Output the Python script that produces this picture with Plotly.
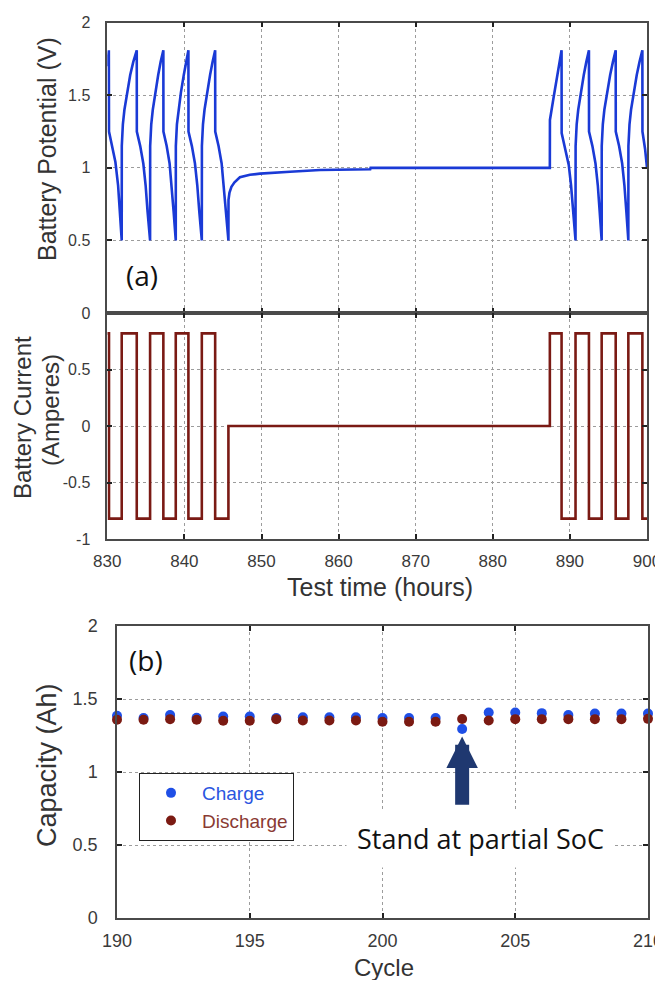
import plotly.graph_objects as go

# ---------------- data ----------------
# Panel (a) top: battery potential vs test time
volt_time = [
    830.00, 830.20, 830.22, 830.60, 831.05, 831.40, 831.65, 831.87,
    831.88, 832.02, 832.22, 832.57, 832.97, 833.37, 833.82,
    833.83, 834.27, 834.67, 834.97, 835.22, 835.55,
    835.56, 835.70, 835.90, 836.22, 836.60, 836.92, 837.27,
    837.28, 837.70, 838.08, 838.36, 838.60, 838.88,
    838.89, 839.03, 839.23, 839.55, 839.92, 840.20, 840.52,
    840.53, 840.97, 841.37, 841.67, 841.93, 842.26,
    842.27, 842.41, 842.61, 842.95, 843.33, 843.65, 843.99,
    844.00, 844.43, 844.83, 845.12, 845.38, 845.71,
    845.72, 845.85, 846.10, 846.50, 847.20, 848.50, 849.80, 853.70,
    857.60, 864.10, 864.15, 887.40,
    887.41, 887.90, 888.36, 888.75, 888.92,
    888.93, 889.40, 889.85, 890.15, 890.45, 890.73,
    890.74, 890.88, 891.08, 891.42, 891.80, 892.13, 892.47,
    892.48, 892.92, 893.32, 893.62, 893.86, 894.12,
    894.13, 894.27, 894.47, 894.82, 895.22, 895.58, 895.94,
    895.95, 896.38, 896.78, 897.07, 897.32, 897.58,
    897.59, 897.73, 897.93, 898.27, 898.67, 899.03, 899.40,
    899.41, 899.75, 900.00,
]
volt_value = [
    1.70, 1.81, 1.25, 1.16, 1.04, 0.88, 0.70, 0.50,
    1.15, 1.30, 1.40, 1.52, 1.64, 1.73, 1.81,
    1.25, 1.15, 1.03, 0.88, 0.70, 0.50,
    1.15, 1.30, 1.40, 1.52, 1.64, 1.73, 1.81,
    1.25, 1.15, 1.03, 0.88, 0.70, 0.50,
    1.15, 1.30, 1.40, 1.52, 1.64, 1.73, 1.81,
    1.25, 1.15, 1.03, 0.88, 0.70, 0.50,
    1.15, 1.30, 1.40, 1.52, 1.64, 1.73, 1.81,
    1.25, 1.15, 1.03, 0.88, 0.70, 0.50,
    0.78, 0.83, 0.87, 0.90, 0.935, 0.952, 0.96, 0.973,
    0.985, 0.99, 1.00, 1.00,
    1.33, 1.49, 1.63, 1.76, 1.81,
    1.24, 1.13, 1.02, 0.88, 0.70, 0.50,
    1.15, 1.30, 1.40, 1.52, 1.64, 1.73, 1.81,
    1.25, 1.15, 1.03, 0.88, 0.70, 0.50,
    1.15, 1.30, 1.40, 1.52, 1.64, 1.73, 1.81,
    1.25, 1.15, 1.03, 0.88, 0.70, 0.50,
    1.15, 1.30, 1.40, 1.52, 1.64, 1.73, 1.81,
    1.25, 1.13, 1.00,
]

# Panel (a) bottom: battery current (step changes)
current_time = [830.00, 830.22, 831.87, 833.82, 835.55, 837.27, 838.88, 840.52,
                842.26, 843.99, 845.71, 887.40, 888.92, 890.73, 892.47, 894.12,
                895.94, 897.58, 899.40, 900.00]
current_value = [0.82, -0.82, 0.82, -0.82, 0.82, -0.82, 0.82, -0.82,
                 0.82, -0.82, 0.0, 0.82, -0.82, 0.82, -0.82, 0.82,
                 -0.82, 0.82, -0.82, -0.82]

# Panel (b): capacity per cycle
cycles = list(range(190, 211))
charge_cap = [1.385, 1.37, 1.39, 1.372, 1.38, 1.38, 1.37, 1.375, 1.375, 1.375, 1.37,
              1.37, 1.37, 1.295, 1.407, 1.407, 1.403, 1.39, 1.40, 1.40, 1.40]
discharge_cap = [1.358, 1.358, 1.362, 1.358, 1.351, 1.351, 1.362, 1.353, 1.353, 1.353, 1.344,
                 1.344, 1.344, 1.363, 1.353, 1.362, 1.362, 1.362, 1.362, 1.362, 1.364]

time_ticks = [830, 840, 850, 860, 870, 880, 890, 900]
volt_ticks = [0, 0.5, 1, 1.5, 2]
current_ticks = [-1, -0.5, 0, 0.5]
cycle_ticks = [190, 195, 200, 205, 210]
cap_ticks = [0, 0.5, 1, 1.5, 2]

# ---------------- styling ----------------
PAGE_W, PAGE_H = 663, 988
BODY_MARGIN = 8                      # default page margin around the plot div
W, H = PAGE_W - BODY_MARGIN, PAGE_H - 2 * BODY_MARGIN
FONT = "Liberation Sans, Arial, sans-serif"
TICK_COLOR = "#3a3a3a"
FRAME = "#4a4a4a"
GRID = "#9c9c9c"
BLUE = "#1a3ad6"
MAROON = "#7a1a14"
DOT_BLUE = "#1f4fe6"
DOT_RED = "#7b1a12"


def px_x(p):
    return (p - BODY_MARGIN) / W


def px_y(p):
    return 1 - (p - BODY_MARGIN) / H


fig = go.Figure()

fig.add_trace(go.Scatter(x=volt_time, y=volt_value, mode="lines",
                         line=dict(color=BLUE, width=2.6),
                         xaxis="x", yaxis="y", showlegend=False))
fig.add_trace(go.Scatter(x=current_time, y=current_value, mode="lines",
                         line=dict(color=MAROON, width=2.6, shape="hv"),
                         xaxis="x2", yaxis="y2", showlegend=False))
fig.add_trace(go.Scatter(x=cycles, y=charge_cap, mode="markers",
                         name="<span style='color:#2a55e0'>Charge</span>",
                         marker=dict(color=DOT_BLUE, size=10),
                         cliponaxis=False, xaxis="x3", yaxis="y3"))
fig.add_trace(go.Scatter(x=cycles, y=discharge_cap, mode="markers",
                         name="<span style='color:#8a3a32'>Discharge</span>",
                         marker=dict(color=DOT_RED, size=10),
                         cliponaxis=False, xaxis="x3", yaxis="y3"))

common_axis = dict(
    showline=True, linecolor=FRAME, linewidth=1.5, mirror="ticks",
    ticks="inside", ticklen=5, tickwidth=1.5, tickcolor="#222",
    showgrid=True, gridcolor=GRID, gridwidth=1, griddash="dot",
    zeroline=False, automargin=False, ticklabeloverflow="allow",
    tickfont=dict(family=FONT, size=16, color=TICK_COLOR),
)

top_x_dom = [px_x(107.3), px_x(647)]
bot_x_dom = [px_x(117), px_x(648)]

fig.update_layout(
    width=W, height=H,
    margin=dict(l=0, r=0, t=0, b=0, autoexpand=False),
    paper_bgcolor="white", plot_bgcolor="white",
    font=dict(family=FONT, color="#333"),
    xaxis=dict(common_axis, domain=top_x_dom, range=[830, 900], tickvals=time_ticks,
               showticklabels=False, anchor="y"),
    yaxis=dict(common_axis, domain=[px_y(313), px_y(22.7)], range=[0, 2], tickvals=volt_ticks,
               ticktext=["0", "0.5", "1", "1.5", "2"], ticklabelstandoff=12, anchor="x"),
    xaxis2=dict(common_axis, domain=top_x_dom, range=[830, 900], tickvals=time_ticks,
                anchor="y2", matches="x", ticklabelstandoff=6,
                tickfont=dict(family=FONT, size=17, color=TICK_COLOR)),
    yaxis2=dict(common_axis, domain=[px_y(539), px_y(313)], range=[-1, 1],
                tickvals=current_ticks, ticktext=["-1", "-0.5", "0", "0.5"],
                ticklabelstandoff=12, anchor="x2"),
    xaxis3=dict(common_axis, domain=bot_x_dom, range=[190, 210], tickvals=cycle_ticks,
                anchor="y3", ticklabelstandoff=6,
                tickfont=dict(family=FONT, size=18, color=TICK_COLOR)),
    yaxis3=dict(common_axis, domain=[px_y(918), px_y(626)], range=[0, 2], tickvals=cap_ticks,
                ticktext=["0", "0.5", "1", "1.5", "2"], ticklabelstandoff=14, anchor="x3",
                tickfont=dict(family=FONT, size=18, color=TICK_COLOR)),
    legend=dict(x=px_x(139), y=px_y(773), xanchor="left", yanchor="top",
                bgcolor="white", bordercolor="#222", borderwidth=1, itemwidth=52,
                font=dict(family=FONT, size=19), tracegroupgap=0),
)


def title(text, xp, yp, size, angle=0):
    return dict(text=text, x=px_x(xp), y=px_y(yp), xref="paper", yref="paper",
                xanchor="center", yanchor="middle", textangle=angle, showarrow=False,
                font=dict(family=FONT, size=size, color="#333"))


annotations = [
    title("Battery Potential (V)", 47, 149, 25, -90),
    title("Battery Current", 22, 418, 24, -90),
    title("(Amperes)", 50, 410, 24, -90),
    title("Test time (hours)", 379.5, 587, 25),
    title("Capacity (Ah)", 47, 765, 27, -90),
    title("Cycle", 384, 967, 24),
    dict(text="(a)", x=834.5, y=0.26, xref="x", yref="y", showarrow=False,
         xanchor="center", yanchor="middle",
         font=dict(family="Open Sans, sans-serif", size=28, color="#111")),
    dict(text="(b)", x=191.1, y=1.764, xref="x3", yref="y3", showarrow=False,
         xanchor="center", yanchor="middle",
         font=dict(family="Open Sans, sans-serif", size=28, color="#111")),
    dict(text="Stand at partial SoC", x=203.7, y=0.547, xref="x3", yref="y3", showarrow=False,
         xanchor="center", yanchor="middle", bgcolor="white", borderpad=10,
         font=dict(family="Open Sans, sans-serif", size=27, color="#111")),
    dict(text="", x=203, y=1.243, ax=203, ay=0.765, xref="x3", yref="y3",
         axref="x3", ayref="y3", showarrow=True, arrowhead=2, arrowsize=0.45,
         arrowwidth=14, arrowcolor="#1f3870"),
]
fig.update_layout(annotations=annotations)

fig.write_html("out.html")
